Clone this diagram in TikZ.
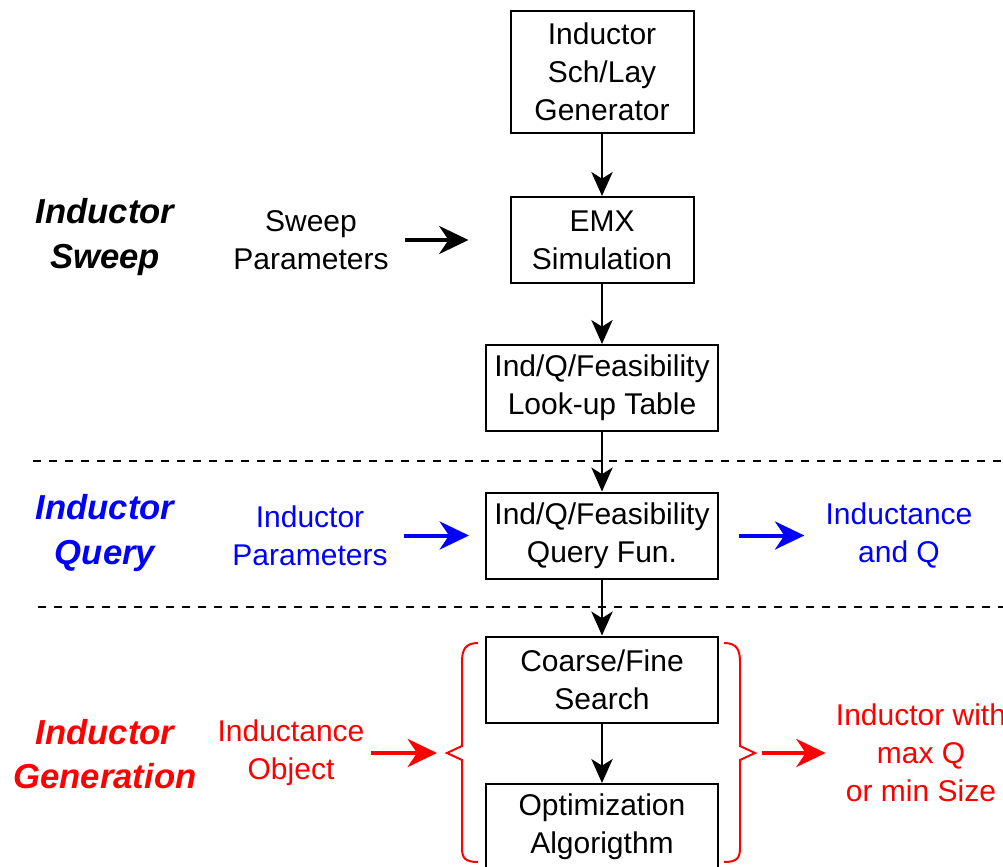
\documentclass[tikz,border=0pt]{standalone}
\usepackage{fontspec}
\setmainfont{Liberation Sans}
\usetikzlibrary{arrows.meta}

\begin{document}
\begin{tikzpicture}[
  x=.75pt,y=-.75pt,
  blk/.style={draw,line width=1.5pt,minimum width=#1,minimum height=64.5pt,align=center,inner sep=0pt,font=\fontsize{22.5}{28.5}\selectfont},
  blk/.default=137.25pt,
  lbl/.style={align=center,inner sep=0pt,font=\fontsize{22.5}{28.5}\selectfont,text=#1},
  lbl/.default=black,
  stage/.style={align=center,inner sep=0pt,font=\fontsize{26}{33.5}\selectfont\bfseries\itshape,text=#1},
  flow/.style={-{Stealth[length=18pt,width=16pt,inset=5pt]},line width=1.5pt},
  feed/.style={-{Stealth[length=22pt,width=21pt,inset=7pt]},line width=3pt,draw=#1},
  sep/.style={line width=1.5pt,dash pattern=on 6pt off 6pt},
  curly/.style={draw=red,line width=1.5pt}
]
\useasboundingbox (0,0) rectangle (1003,867);
\clip (0,0) rectangle (1003,867);

% main chain
\node[blk,minimum height=91.5pt] (gen) at (602,72) {Inductor\\Sch/Lay\\Generator};
\node[blk] (emx) at (602,240) {EMX\\Simulation};
\node[blk=174pt] (lut) at (602,388) {Ind/Q/Feasibility\\Look-up Table};
\node[blk=174pt] (qry) at (602,535.5) {Ind/Q/Feasibility\\Query Fun.};
\node[blk=174pt] (search) at (602,679.5) {Coarse/Fine\\Search};
\node[blk=174pt] (opt) at (602,827) {Optimization\\Algorigthm};

% stage names
\node[stage=black] (sweepst) at (105,237) {Inductor\\Sweep};
\node[stage=blue] (queryst) at (105,533) {Inductor\\Query};
\node[stage=red] (genst) at (105,754) {Inductor\\Generation};

% inputs and outputs
\node[lbl] (sweep) at (311,240) {Sweep\\Parameters};
\node[lbl=blue] (ipar) at (310,535.5) {Inductor\\Parameters};
\node[lbl=blue] (indq) at (899,535.5) {Inductance\\and Q};
\node[lbl=red] (indobj) at (291,753) {Inductance\\Object};
\node[lbl=red] (out) at (921,753) {Inductor with\\max Q\\or min Size};

% separators
\coordinate (s1a) at (33,461); \coordinate (s1b) at (1003,461);
\coordinate (s2a) at (38,607); \coordinate (s2b) at (1003,607);
\draw[sep] (s1a) -- (s1b);
\draw[sep] (s2a) -- (s2b);

% braces
\coordinate (ltip) at (447,753);
\coordinate (rtip) at (755,753);
\draw[curly] (478,643) .. controls (465,643) and (462,650) .. (462,662) -- (462,746) -- (ltip) -- (462,760) -- (462,848) .. controls (462,858) and (465,862) .. (478,862);
\draw[curly] (724,643) .. controls (737,643) and (740,650) .. (740,662) -- (740,746) -- (rtip) -- (740,760) -- (740,848) .. controls (740,858) and (737,862) .. (724,862);

\draw[flow] (gen) -- (emx); \draw[flow] (emx) -- (lut); \draw[flow] (lut) -- (qry);
\draw[flow] (qry) -- (search); \draw[flow] (search) -- (opt);
\draw[feed=black,shorten <=12pt,shorten >=30.75pt] (sweep) -- (emx);
\draw[feed=blue,shorten <=12pt,shorten >=12pt] (ipar) -- (qry);
\draw[feed=blue,shorten <=15pt,shorten >=15.75pt] (qry) -- (indq);
\draw[feed=red,shorten <=4.5pt,shorten >=7.5pt] (indobj) -- (ltip);
\draw[feed=red,shorten <=5.25pt,shorten >=7.5pt] (rtip) -- (out);
\end{tikzpicture}
\end{document}
